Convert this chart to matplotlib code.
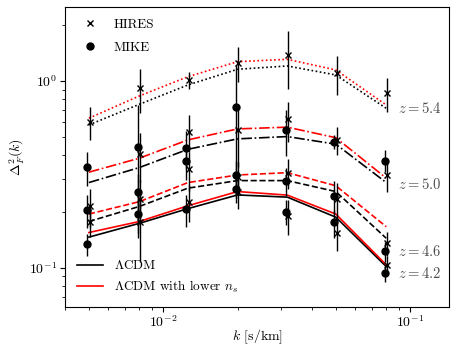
import numpy as np
import matplotlib
matplotlib.use('Agg')
import matplotlib.pyplot as plt
from matplotlib.lines import Line2D

plt.rcParams['font.family'] = 'serif'
plt.rcParams['font.serif'] = ['cmr10', 'DejaVu Serif']
plt.rcParams['mathtext.fontset'] = 'cm'
plt.rcParams['axes.unicode_minus'] = False
plt.rcParams['axes.formatter.use_mathtext'] = True

# k bins [s/km]
k = [0.005, 0.008, 0.0126, 0.02, 0.0318, 0.05, 0.08]
redshifts = ['5.4', '5.0', '4.6', '4.2']
styles = [(0, (1, 1.5)), '-.', '--', '-']

# model curves, LCDM (black) and LCDM with lower n_s (red)
lcdm = {
    '5.4': [0.582, 0.750, 0.952, 1.155, 1.203, 1.077, 0.714],
    '5.0': [0.286, 0.344, 0.431, 0.490, 0.504, 0.459, 0.286],
    '4.6': [0.177, 0.213, 0.267, 0.293, 0.293, 0.256, 0.144],
    '4.2': [0.146, 0.173, 0.2075, 0.2455, 0.239, 0.1867, 0.1016],
}
lcdm_low_ns = {
    '5.4': [0.632, 0.831, 1.054, 1.268, 1.306, 1.145, 0.744],
    '5.0': [0.325, 0.386, 0.484, 0.554, 0.566, 0.497, 0.302],
    '4.6': [0.194, 0.226, 0.286, 0.314, 0.323, 0.275, 0.166],
    '4.2': [0.1545, 0.177, 0.215, 0.256, 0.245, 0.194, 0.1038],
}

# HIRES data
hires = {
    '5.4': [0.606, 0.918, 1.012, 1.253, 1.377, 1.10, 0.859],
    '5.0': [np.nan, 0.407, 0.536, 0.547, 0.624, 0.484, 0.314],
    '4.6': [0.215, 0.234, 0.337, 0.307, 0.323, 0.233, 0.135],
    '4.2': [0.177, 0.177, 0.226, 0.256, 0.190, 0.153, 0.1034],
}
hires_err = {
    '5.4': [0.12, 0.24, 0.11, 0.27, 0.47, 0.26, 0.18],
    '5.0': [np.nan, 0.12, 0.12, 0.2, 0.15, 0.08, 0.06],
    '4.6': [0.05, 0.06, 0.08, 0.06, 0.06, 0.05, 0.02],
    '4.2': [0.03, 0.07, 0.05, 0.05, 0.04, 0.03, 0.012],
}

# MIKE data
mike = {
    '5.0': [0.345, 0.445, 0.437, 0.723, 0.547, 0.474, 0.375],
    '4.6': [0.204, 0.256, 0.375, 0.314, 0.293, 0.243, 0.123],
    '4.2': [0.134, 0.194, 0.206, 0.265, 0.200, 0.175, 0.0937],
}
mike_err = {
    '5.0': [0.07, 0.3, 0.1, 0.5, 0.15, 0.04, 0.05],
    '4.6': [0.04, 0.06, 0.08, 0.06, 0.05, 0.05, 0.015],
    '4.2': [0.018, 0.04, 0.04, 0.03, 0.03, 0.03, 0.01],
}

# where the z labels go
label_k = 0.0893
label_y = {'5.4': 0.715, '5.0': 0.278, '4.6': 0.123, '4.2': 0.0935}

fig = plt.figure(figsize=(4.51, 3.46), dpi=100)
ax = fig.add_axes([0.144, 0.113, 0.852, 0.867])

for z, ls in zip(redshifts, styles):
    ax.plot(k, lcdm[z], color='k', ls=ls, lw=1.2)
    ax.plot(k, lcdm_low_ns[z], color='r', ls=ls, lw=1.2)

k_arr = np.array(k)
for z in redshifts:
    ax.errorbar(k_arr * 1.008, hires[z], yerr=hires_err[z], fmt='x', color='k',
                ms=5, mew=1.0, elinewidth=1.0, capsize=0)
for z in mike:
    ax.errorbar(k_arr * 0.985, mike[z], yerr=mike_err[z], fmt='o', color='k',
                ms=5, elinewidth=1.0, capsize=0)

for z in redshifts:
    ax.text(label_k, label_y[z], '$z = %s$' % z, fontsize=10.5, color='0.3',
            va='center', ha='left')

ax.set_xscale('log')
ax.set_yscale('log')
ax.set_xlim(0.004, 0.1439)
ax.set_ylim(0.0618, 2.49)
ax.set_xlabel('$k$ [s/km]', fontsize=10, va='center')
ax.xaxis.set_label_coords(0.5, -0.098)
ax.set_ylabel('$\\Delta^2_F(k)$', fontsize=10, labelpad=2)
ax.tick_params(labelsize=10, pad=2)

h1 = [Line2D([], [], ls='none', marker='x', color='k', ms=5),
      Line2D([], [], ls='none', marker='o', color='k', ms=5)]
leg1 = ax.legend(h1, ['HIRES', 'MIKE'], loc='upper left', frameon=False, fontsize=9.5,
                 labelspacing=0.8)
ax.add_artist(leg1)
h2 = [Line2D([], [], color='k', lw=1.2), Line2D([], [], color='r', lw=1.2)]
ax.legend(h2, ['$\\Lambda$CDM', '$\\Lambda$CDM with lower $n_s$'], loc='lower left',
          frameon=False, fontsize=9.5)

fig.savefig('out.png', dpi=100)
